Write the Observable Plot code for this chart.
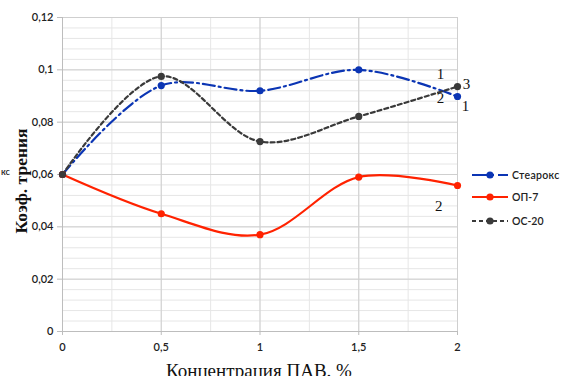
<!DOCTYPE html>
<html><head><meta charset="utf-8">
<script src="https://cdn.jsdelivr.net/npm/d3@7"></script>
<script src="https://cdn.jsdelivr.net/npm/@observablehq/plot@0.6"></script>
<style>
body{margin:0;background:#fff;}
#wrap{position:relative;width:561px;height:376px;overflow:hidden;}
#legend{position:absolute;left:0;top:0;}
</style></head>
<body><div id="wrap"></div>
<script>
const conc = [0, 0.5, 1, 1.5, 2];
const stearox = [0.060, 0.094, 0.092, 0.100, 0.0898];
const op7 = [0.060, 0.045, 0.037, 0.059, 0.0558];
const os20 = [0.060, 0.0975, 0.0726, 0.0822, 0.0936];
const seriesNames = ["Стеарокс", "ОП-7", "ОС-20"];
const xTicks = [0, 0.5, 1, 1.5, 2];
const yTicks = [0, 0.02, 0.04, 0.06, 0.08, 0.1, 0.12];
const noteLabels = ["1", "3", "2", "1", "2"];
const noteX = [1.914, 2.046, 1.914, 2.041, 1.905];
const noteY = [0.1005, 0.0967, 0.0913, 0.0883, 0.0501];
const yTitle = "Коэф. трения";
const xTitle = "Концентрация ПАВ. %";
const stray = "кс";

const colors = ["#0b35b4", "#ff2200", "#3a3a3a"];
const dashes = ["12,4,2,4", null, "4,3"];
const series = [stearox, op7, os20];
const rows = series.flatMap((vals, i) => vals.map((v, j) => ({s: seriesNames[i], x: conc[j], y: v})));
const notes = noteLabels.map((t, i) => ({t, x: noteX[i], y: noteY[i]}));
const fmt = d => String(d).replace(".", ",");
const minorX = d3.range(0, 2.0001, 0.25);
const minorY = d3.range(0, 0.12001, 0.004);

const chart = Plot.plot({
  width: 561, height: 376,
  marginLeft: 62, marginRight: 104, marginTop: 17, marginBottom: 45,
  style: {fontFamily: "Lato, 'Open Sans', sans-serif", fontSize: "11px", color: "#222", background: "#fff"},
  x: {domain: [0, 2]},
  y: {domain: [0, 0.12]},
  marks: [
    Plot.gridY(minorY, {stroke: "#e6e6e6", strokeOpacity: 1}),
    Plot.gridX(minorX, {stroke: "#e6e6e6", strokeOpacity: 1}),
    Plot.gridY(yTicks, {stroke: "#cfcfcf", strokeOpacity: 1}),
    Plot.gridX(xTicks, {stroke: "#cfcfcf", strokeOpacity: 1}),
    Plot.ruleX([0], {stroke: "#bdbdbd"}),
    Plot.ruleY([0], {stroke: "#bdbdbd"}),
    Plot.axisY(yTicks, {tickFormat: fmt, tickSize: 5, tickPadding: 4, stroke: "#bdbdbd", label: null, fontWeight: 600}),
    Plot.axisX(xTicks, {tickFormat: fmt, tickSize: 4, tickPadding: 8, stroke: "#bdbdbd", label: null, fontWeight: 600}),
    ...seriesNames.map((name, i) => Plot.line(rows.filter(r => r.s === name), {
      x: "x", y: "y", curve: "catmull-rom", stroke: colors[i], strokeWidth: 2.2,
      strokeDasharray: dashes[i] || undefined
    })),
    ...seriesNames.map((name, i) => Plot.dot(rows.filter(r => r.s === name), {
      x: "x", y: "y", r: 3.6, fill: colors[i], stroke: "none"
    })),
    Plot.text(notes, {x: "x", y: "y", text: "t", fontFamily: "'Liberation Serif', 'DejaVu Serif', serif", fontSize: 15, fill: "#111", lineAnchor: "top"})
  ]
});
const wrap = document.getElementById("wrap");
wrap.appendChild(chart);

// overlay: axis titles and legend
const lg = d3.select(wrap).append("svg").attr("id", "legend").attr("width", 561).attr("height", 376);
lg.append("text").attr("transform", "translate(21,181) rotate(-90)").attr("text-anchor", "middle").attr("dy", "0.35em")
  .attr("font-family", "'Liberation Serif', serif").attr("font-size", 17.5).attr("font-weight", "bold").attr("fill", "#111").text(yTitle);
lg.append("text").attr("x", 1).attr("y", 172).attr("dy", "0.35em")
  .attr("font-family", "Lato, sans-serif").attr("font-size", 9).attr("font-weight", 600).attr("fill", "#222").text(stray);
lg.append("text").attr("x", 259).attr("y", 377)
  .attr("text-anchor", "middle").attr("font-family", "'Liberation Serif', serif").attr("font-size", 19).attr("fill", "#111").text(xTitle);

const ly = [175, 197, 221];
seriesNames.forEach((name, i) => {
  const g = lg.append("g").attr("transform", `translate(472,${ly[i]})`);
  g.append("line").attr("x1", 0).attr("x2", 36).attr("y1", 0).attr("y2", 0)
    .attr("stroke", colors[i]).attr("stroke-width", 2.2)
    .attr("stroke-dasharray", i === 0 ? "15,4,3,4" : dashes[i]);
  g.append("circle").attr("cx", 18).attr("cy", 0).attr("r", 3.6).attr("fill", colors[i]);
  g.append("text").attr("x", 40).attr("y", 0).attr("dy", "0.35em")
    .attr("font-family", "Lato, sans-serif").attr("font-size", 10.5).attr("font-weight", 600)
    .attr("letter-spacing", i === 0 ? "0.3px" : "0").attr("fill", "#222").text(name);
});
</script></body></html>
